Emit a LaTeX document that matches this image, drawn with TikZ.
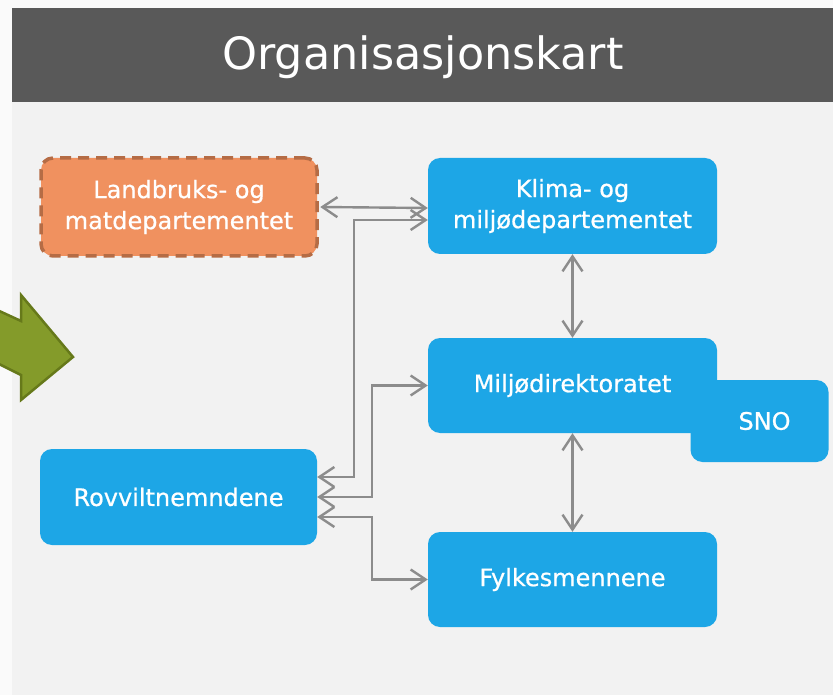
\documentclass[tikz,border=0pt]{standalone}
\usepackage{fontspec}
\setmainfont{DejaVu Sans}
\newfontfamily\boxfont{DejaVu Sans}[BoldFont={DejaVu Sans},BoldFeatures={FakeBold=0.7}]
\usetikzlibrary{arrows.meta,calc}
\definecolor{outerbg}{HTML}{FAFAFA}
\definecolor{panel}{HTML}{F2F2F2}
\definecolor{titlebar}{HTML}{595959}
\definecolor{boxblue}{HTML}{1DA6E6}
\definecolor{boxorange}{HTML}{F0915F}
\definecolor{orangeedge}{HTML}{B56C45}
\definecolor{conngray}{HTML}{8C8C8C}
\definecolor{arrowgreen}{HTML}{849B2A}
\definecolor{arrowedge}{HTML}{66791A}
\tikzset{
  orgbox/.style={rectangle, rounded corners=12pt, fill=boxblue, text=white,
    font=\boxfont\bfseries\fontsize{24}{31}\selectfont, align=center, inner sep=0pt},
  dashbox/.style={orgbox, fill=boxorange, draw=orangeedge, line width=3.5pt,
    dash pattern=on 11pt off 7pt},
  conn/.style={draw=conngray, line width=2.4pt,
    {Straight Barb[length=15pt,width=20pt]}-{Straight Barb[length=15pt,width=20pt]}},
}
\begin{document}
\begin{tikzpicture}[x=1pt,y=-1pt]
\useasboundingbox (0,0) rectangle (833,695);
\fill[outerbg] (0,0) rectangle (833,695);
\fill[panel] (12,8) rectangle (833,695);
\fill[titlebar] (12,8) rectangle (833,102);
\node[text=white, font=\fontsize{44.5}{50}\selectfont] (title) at (423,57) {Organisasjonskart};
% green arrow
\filldraw[fill=arrowgreen, draw=arrowedge, line width=2.5pt, line join=miter]
  (-5,309) -- (21,321) -- (21,295) -- (73,357) -- (21,400) -- (21,375) -- (-5,362) -- cycle;
% boxes
\node[orgbox, minimum width=138pt, minimum height=82pt] (S) at (759.5,421) {\hspace*{10pt}SNO};
\node[orgbox, minimum width=289pt, minimum height=95pt] (M) at (572.5,385.5) {Miljødirektoratet};
\node[dashbox, minimum width=276pt, minimum height=98pt] (L) at (179,207) {Landbruks- og\\matdepartementet};
\node[orgbox, minimum width=289pt, minimum height=96pt] (K) at (572.5,206) {Klima- og\\miljødepartementet};
\node[orgbox, minimum width=277pt, minimum height=96pt] (R) at (178.5,497) {Rovviltnemndene};
\node[orgbox, minimum width=289pt, minimum height=95pt] (F) at (572.5,579.5) {Fylkesmennene};
% connectors
\draw[conn] ([xshift=1.5pt]L.east) -- ([yshift=-1pt]K.west |- L.east);
\draw[conn] ([yshift=20pt]R.east) -- ++(37,0) |- ([yshift=-14pt]K.west);
\draw[conn] (R.east) -- ++(55,0) |- (M.west);
\draw[conn] ([yshift=-20pt]R.east) -- ++(55,0) |- (F.west);
\draw[conn] (K.south) -- (M.north);
\draw[conn] (M.south) -- (F.north);
\end{tikzpicture}
\end{document}
